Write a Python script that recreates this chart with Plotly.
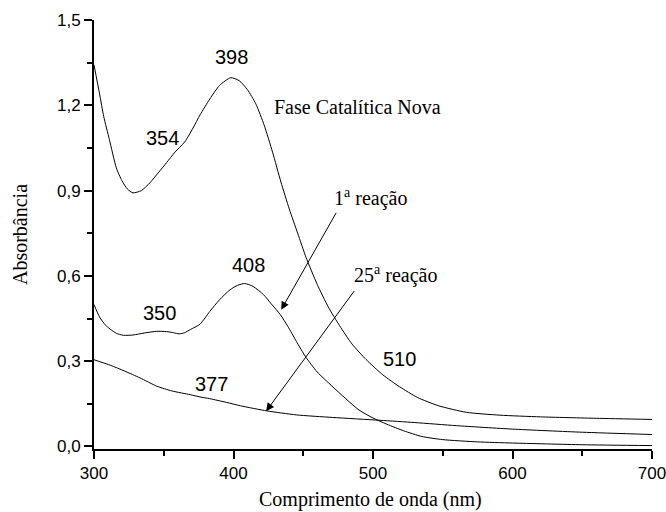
import plotly.graph_objects as go

# Absorption spectra (wavelength in nm, absorbance)
wl_nova = [300, 304, 307, 311, 316, 320, 324, 328, 334, 340, 346, 352, 358, 365, 371, 376,
           383, 390, 398, 404, 410, 416, 422, 428, 434, 440, 446, 452, 460, 468, 476, 485,
           495, 507, 519, 532, 547, 567, 591, 620, 660, 700]
abs_nova = [1.342, 1.24, 1.16, 1.08, 0.98, 0.935, 0.905, 0.892, 0.900, 0.927, 0.962, 0.998,
            1.035, 1.071, 1.12, 1.166, 1.222, 1.27, 1.297, 1.287, 1.255, 1.205, 1.13, 1.035,
            0.93, 0.835, 0.75, 0.665, 0.57, 0.49, 0.425, 0.36, 0.306, 0.252, 0.21, 0.172,
            0.143, 0.12, 0.110, 0.104, 0.099, 0.095]

wl_r1 = [300, 304, 308, 311.5, 316, 321, 328, 336, 345, 352, 357, 361, 365, 369, 376, 383,
         390, 397.5, 403, 408, 414, 421.5, 427, 433.5, 439, 445, 452, 460, 470, 480, 490,
         500, 510, 522, 535, 550, 575, 600, 650, 700]
abs_r1 = [0.499, 0.455, 0.428, 0.413, 0.398, 0.391, 0.392, 0.399, 0.405, 0.404, 0.400, 0.396,
          0.400, 0.411, 0.43, 0.475, 0.516, 0.551, 0.567, 0.573, 0.563, 0.534, 0.502, 0.464,
          0.422, 0.37, 0.313, 0.262, 0.215, 0.17, 0.128, 0.1, 0.078, 0.055, 0.035, 0.024,
          0.016, 0.012, 0.006, 0.003]

wl_r25 = [300, 312, 322, 333, 345, 356, 369, 376, 383, 395, 405, 424, 445, 471, 505, 530,
          560, 600, 650, 700]
abs_r25 = [0.305, 0.285, 0.265, 0.241, 0.212, 0.195, 0.182, 0.174, 0.168, 0.155, 0.143, 0.125,
           0.111, 0.102, 0.092, 0.084, 0.073, 0.061, 0.05, 0.042]

# Peak labels: (text, wavelength, absorbance)
peak_text = ["398", "354", "408", "350", "510", "377"]
peak_x = [398.3, 348.8, 411, 346.7, 519, 384.5]
peak_y = [1.370, 1.085, 0.639, 0.471, 0.306, 0.218]

fig = go.Figure()
for xs, ys in [(wl_nova, abs_nova), (wl_r1, abs_r1), (wl_r25, abs_r25)]:
    fig.add_trace(go.Scatter(x=xs, y=ys, mode="lines",
                             line=dict(color="black", width=1, shape="spline", smoothing=0.6),
                             showlegend=False, hoverinfo="skip"))

for t, x, y in zip(peak_text, peak_x, peak_y):
    fig.add_annotation(x=x, y=y, text=t, showarrow=False,
                       font=dict(family="Liberation Sans", size=20, color="black"))

serif = dict(family="Liberation Serif", size=20, color="black")
fig.add_annotation(x=427.8, y=1.194, text="Fase Catalítica Nova", showarrow=False,
                   xanchor="left", font=serif)
fig.add_annotation(x=470.8, y=0.875, text="1<sup>a</sup> reação", showarrow=False,
                   xanchor="left", font=serif)
fig.add_annotation(x=485, y=0.604, text="25<sup>a</sup> reação", showarrow=False,
                   xanchor="left", font=serif)

# X-axis title placed below the tick labels
fig.add_annotation(x=0.495, y=-0.117, xref="paper", yref="paper", yanchor="middle",
                   text="Comprimento de onda (nm)", showarrow=False, font=serif)

# Arrows pointing at the reaction curves
for tip, tail in [((434.2, 0.481), (474.2, 0.827)), ((423.4, 0.124), (487.3, 0.5516))]:
    fig.add_annotation(x=tip[0], y=tip[1], ax=tail[0], ay=tail[1], axref="x", ayref="y",
                       text="", showarrow=True, arrowhead=2, arrowsize=1.6,
                       arrowwidth=1, arrowcolor="black")

axis_common = dict(showgrid=False, zeroline=False, showline=True, linecolor="black",
                   linewidth=2, ticks="outside", ticklen=8, tickwidth=1.5,
                   tickcolor="black", mirror=False, automargin=False,
                   ticklabeloverflow="allow",
                   tickfont=dict(family="Liberation Sans", size=17, color="black"))

fig.update_xaxes(range=[300, 700], tickvals=[300, 400, 500, 600, 700],
                 minor=dict(dtick=50, ticks="outside", ticklen=5, tickwidth=1.5,
                            tickcolor="black", showgrid=False),
                 **axis_common)
fig.update_yaxes(range=[-0.009, 1.5], tickvals=[0, 0.3, 0.6, 0.9, 1.2, 1.5],
                 tickformat=".1f",
                 minor=dict(dtick=0.15, ticks="outside", ticklen=5, tickwidth=1.5,
                            tickcolor="black", showgrid=False),
                 title=dict(text="Absorbância", font=serif, standoff=24),
                 **axis_common)

fig.update_layout(width=666, height=512, separators=",.",
                  plot_bgcolor="white", paper_bgcolor="white",
                  margin=dict(l=94, r=14, t=20, b=63))

fig.write_html("out.html")
